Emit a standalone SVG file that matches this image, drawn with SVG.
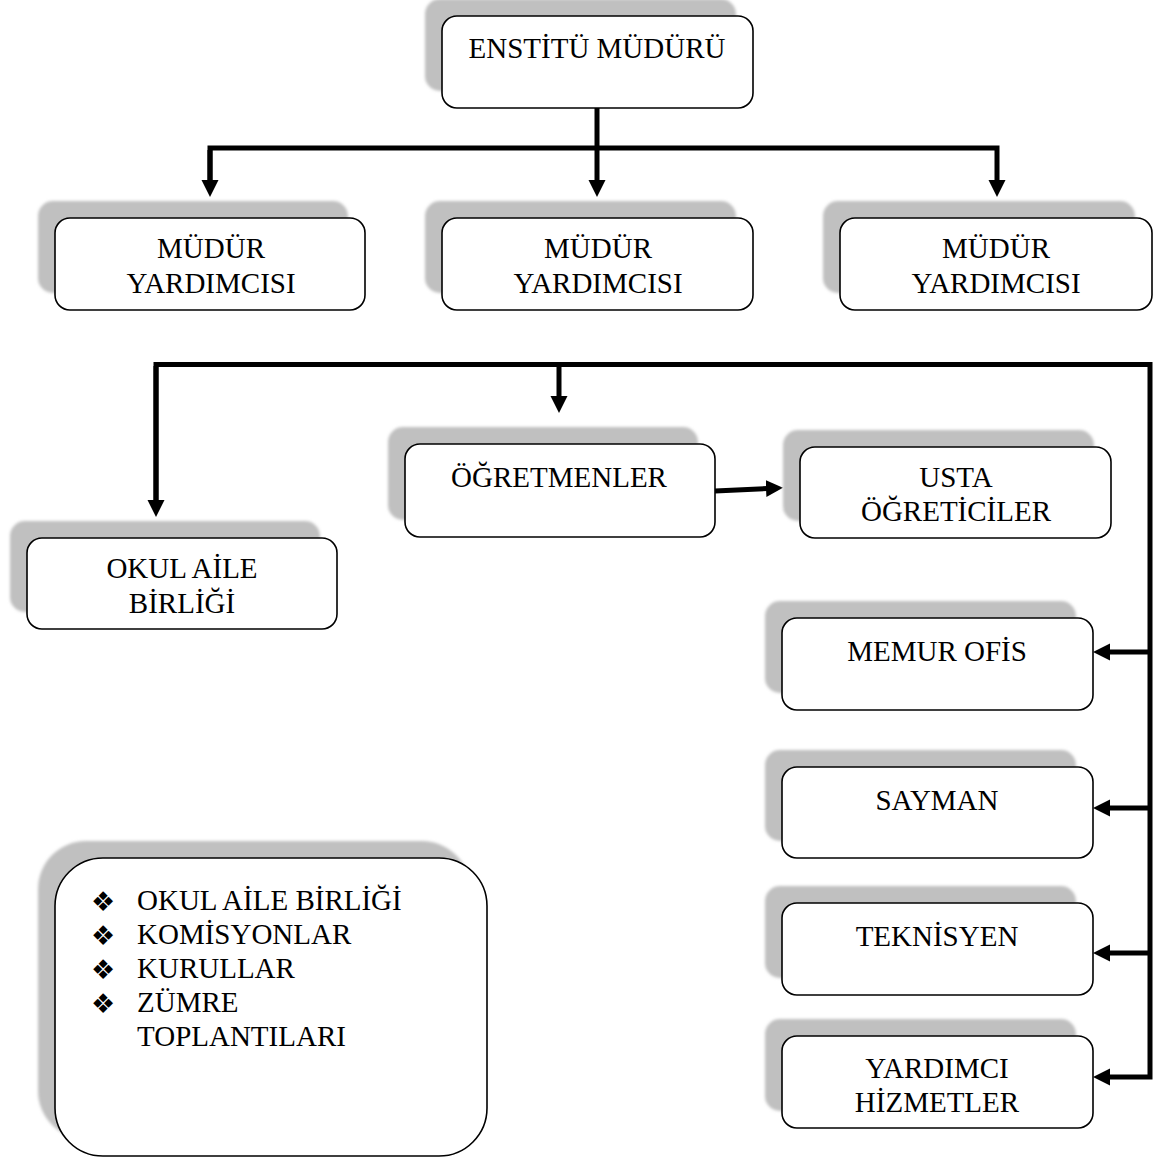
<svg xmlns="http://www.w3.org/2000/svg" width="1165" height="1159" viewBox="0 0 1165 1159">
<style>
.shadow{fill:#c0c0c0;filter:url(#blur)}
.box{fill:#ffffff;stroke:#000000;stroke-width:1.6}
.t{font-family:"Liberation Serif","Times New Roman",serif;font-size:29px;fill:#000000;text-anchor:middle}
.tl{font-family:"Liberation Serif","Times New Roman",serif;font-size:29px;fill:#000000}
.bul{font-family:"DejaVu Sans",sans-serif;font-size:27px;fill:#000000}
.c{fill:none;stroke:#000000;stroke-width:5;stroke-linejoin:miter}
</style>
<defs>
<filter id="blur" x="-5%" y="-5%" width="110%" height="110%"><feGaussianBlur stdDeviation="1.5"/></filter>
<marker id="ah" markerUnits="userSpaceOnUse" markerWidth="18" markerHeight="18" refX="1" refY="8.5" orient="auto" viewBox="0 0 18 17">
<path d="M0,0 L17,8.5 L0,17 z" fill="#000000"/>
</marker>
</defs>

<g id="connectors">
<path class="c" d="M597,108 V181" marker-end="url(#ah)"/>
<path class="c" d="M210,181 V148 H997 V181" marker-end="url(#ah)"/>
<path class="c" d="M210,150 V181" marker-end="url(#ah)"/>
<path class="c" d="M156,501 V364.5 H1150 V1077 H1109" marker-end="url(#ah)"/>
<path class="c" d="M156,366 V501" marker-end="url(#ah)"/>
<path class="c" d="M559,364 V397" marker-end="url(#ah)"/>
<path class="c" d="M1150,652 H1109" marker-end="url(#ah)"/>
<path class="c" d="M1150,808 H1109" marker-end="url(#ah)"/>
<path class="c" d="M1150,953 H1109" marker-end="url(#ah)"/>
<path class="c" d="M715,491 L767,488.5" marker-end="url(#ah)"/>
</g>

<g id="enstitu-muduru">
<rect class="shadow" x="425" y="-1" width="311" height="92" rx="15"/>
<rect class="box" x="442" y="16" width="311" height="92" rx="15"/>
<text class="t" x="597" y="58">ENSTİTÜ MÜDÜRÜ</text>
</g>

<g id="mudur-yardimcisi-1">
<rect class="shadow" x="38" y="201" width="310" height="92" rx="15"/>
<rect class="box" x="55" y="218" width="310" height="92" rx="15"/>
<text class="t" x="211" y="258">MÜDÜR</text>
<text class="t" x="211" y="293">YARDIMCISI</text>
</g>

<g id="mudur-yardimcisi-2">
<rect class="shadow" x="425" y="201" width="311" height="92" rx="15"/>
<rect class="box" x="442" y="218" width="311" height="92" rx="15"/>
<text class="t" x="598" y="258">MÜDÜR</text>
<text class="t" x="598" y="293">YARDIMCISI</text>
</g>

<g id="mudur-yardimcisi-3">
<rect class="shadow" x="823" y="201" width="312" height="92" rx="15"/>
<rect class="box" x="840" y="218" width="312" height="92" rx="15"/>
<text class="t" x="996" y="258">MÜDÜR</text>
<text class="t" x="996" y="293">YARDIMCISI</text>
</g>

<g id="ogretmenler">
<rect class="shadow" x="388" y="427" width="310" height="93" rx="15"/>
<rect class="box" x="405" y="444" width="310" height="93" rx="15"/>
<text class="t" x="559" y="487">ÖĞRETMENLER</text>
</g>

<g id="usta-ogreticiler">
<rect class="shadow" x="783" y="430" width="311" height="91" rx="15"/>
<rect class="box" x="800" y="447" width="311" height="91" rx="15"/>
<text class="t" x="956" y="487">USTA</text>
<text class="t" x="956" y="521">ÖĞRETİCİLER</text>
</g>

<g id="okul-aile-birligi">
<rect class="shadow" x="10" y="521" width="310" height="91" rx="15"/>
<rect class="box" x="27" y="538" width="310" height="91" rx="15"/>
<text class="t" x="182" y="578">OKUL AİLE</text>
<text class="t" x="182" y="613">BİRLİĞİ</text>
</g>

<g id="memur-ofis">
<rect class="shadow" x="765" y="601" width="311" height="92" rx="15"/>
<rect class="box" x="782" y="618" width="311" height="92" rx="15"/>
<text class="t" x="937" y="661">MEMUR OFİS</text>
</g>

<g id="sayman">
<rect class="shadow" x="765" y="750" width="311" height="91" rx="15"/>
<rect class="box" x="782" y="767" width="311" height="91" rx="15"/>
<text class="t" x="937" y="810">SAYMAN</text>
</g>

<g id="teknisyen">
<rect class="shadow" x="765" y="886" width="311" height="92" rx="15"/>
<rect class="box" x="782" y="903" width="311" height="92" rx="15"/>
<text class="t" x="937" y="946">TEKNİSYEN</text>
</g>

<g id="yardimci-hizmetler">
<rect class="shadow" x="765" y="1019" width="311" height="92" rx="15"/>
<rect class="box" x="782" y="1036" width="311" height="92" rx="15"/>
<text class="t" x="937" y="1078">YARDIMCI</text>
<text class="t" x="937" y="1112">HİZMETLER</text>
</g>

<g id="kurullar-listesi">
<rect class="shadow" x="38" y="841" width="432" height="298" rx="48"/>
<rect class="box" x="55" y="858" width="432" height="298" rx="48"/>
<text class="bul" x="91" y="911">❖</text>
<text class="bul" x="91" y="945">❖</text>
<text class="bul" x="91" y="979">❖</text>
<text class="bul" x="91" y="1013">❖</text>
<text class="tl" x="137" y="910">OKUL AİLE BİRLİĞİ</text>
<text class="tl" x="137" y="944">KOMİSYONLAR</text>
<text class="tl" x="137" y="978">KURULLAR</text>
<text class="tl" x="137" y="1012">ZÜMRE</text>
<text class="tl" x="137" y="1046">TOPLANTILARI</text>
</g>
</svg>
